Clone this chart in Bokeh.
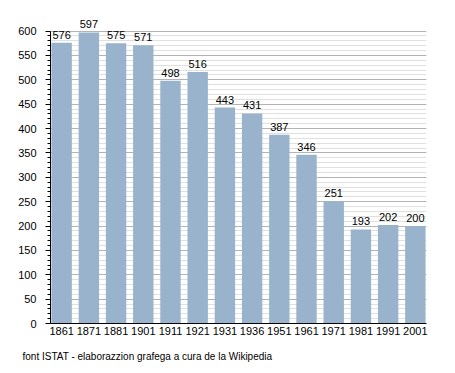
from bokeh.plotting import figure
from bokeh.models import (ColumnDataSource, Range1d, FixedTicker, LabelSet, Title)
from bokeh.core.properties import value
from bokeh.embed import file_html
from bokeh.resources import INLINE

years = ["1861", "1871", "1881", "1901", "1911", "1921", "1931", "1936",
         "1951", "1961", "1971", "1981", "1991", "2001"]
population = [576, 597, 575, 571, 498, 516, 443, 431, 387, 346, 251, 193, 202, 200]
footer = "font ISTAT - elaborazzion grafega a cura de la Wikipedia"
y_major = list(range(0, 601, 50))
y_minor = list(range(0, 601, 10))

FONT = "Liberation Sans"
idx = list(range(len(years)))
src = ColumnDataSource(dict(x=idx, y=population, lab=[str(v) for v in population]))

p = figure(width=455, height=373, output_backend="svg", toolbar_location=None,
           x_range=Range1d(-0.41, len(years) - 1 + 0.41), y_range=Range1d(0, 640),
           min_border_left=50, min_border_right=29, min_border_top=11, min_border_bottom=50)
p.outline_line_color = None
p.background_fill_color = "white"

p.vbar(x="x", top="y", width=0.75, source=src, fill_color="#9ab3cc", line_color=None)

labels = LabelSet(x="x", y="y", text="lab", source=src, text_align="center",
                  text_baseline="bottom", y_offset=4, text_font=value(FONT),
                  text_font_size="11px", text_color="#000000")
p.add_layout(labels)

# y axis
p.yaxis.ticker = FixedTicker(ticks=y_major, minor_ticks=y_minor)
p.yaxis.bounds = (0, 600)
p.yaxis.major_label_text_font = FONT
p.yaxis.major_label_text_font_size = "11px"
p.yaxis.major_label_text_color = "#000000"
p.yaxis.major_tick_out = 5
p.yaxis.major_tick_in = 0
p.yaxis.minor_tick_out = 3
p.yaxis.minor_tick_in = 0
p.yaxis.major_label_standoff = 9
p.yaxis.axis_line_color = "#000000"
p.yaxis.major_tick_line_color = "#000000"
p.yaxis.minor_tick_line_color = "#000000"

# x axis
p.xaxis.ticker = FixedTicker(ticks=idx)
p.xaxis.major_label_overrides = {i: y for i, y in zip(idx, years)}
p.xaxis.major_label_text_font = FONT
p.xaxis.major_label_text_font_size = "11px"
p.xaxis.major_label_text_color = "#000000"
p.xaxis.major_tick_out = 0
p.xaxis.major_tick_in = 0
p.xaxis.minor_tick_line_color = None
p.xaxis.major_label_standoff = 3
p.xaxis.axis_line_color = "#000000"

# grids
p.xgrid.grid_line_color = None
p.ygrid.grid_line_color = "#b3b3b3"
p.ygrid.minor_grid_line_color = "#e0e0e0"

p.add_layout(Title(text=footer, align="left", offset=-28, text_font=FONT,
                   text_font_size="10px", text_font_style="normal",
                   text_color="#000000", standoff=22), "below")

open("out.html", "w").write(file_html(p, INLINE))
